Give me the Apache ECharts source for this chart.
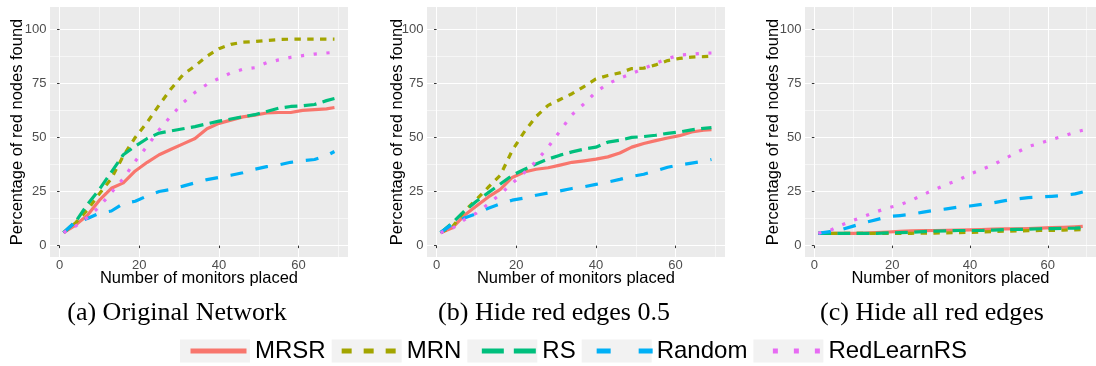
<!DOCTYPE html>
<html>
<head>
<meta charset="utf-8">
<script src="https://cdn.jsdelivr.net/npm/echarts@6.0.0/dist/echarts.min.js"></script>
<style>
  html, body { margin: 0; padding: 0; background: #ffffff; }
  #chart { width: 1096px; height: 366px; }
</style>
</head>
<body>
<div id="chart"></div>
<script>
// Number of monitors placed (shared x values for every curve)
const monitors = [1, 4, 7, 10, 13, 16, 19, 22, 25, 28, 31, 34, 37, 40, 43, 46, 49, 52, 55, 58, 61, 64, 67, 69];

// Method names, in legend order
const methods = ['MRSR', 'MRN', 'RS', 'Random', 'RedLearnRS'];

// (a) Original Network — percentage of red nodes found
const origMRSR       = [6, 9.5, 14, 21, 26.5, 29, 34.5, 38.5, 42, 44.5, 47, 49.5, 54, 56.5, 58, 59.5, 60.3, 61.3, 61.5, 61.5, 62.5, 62.8, 63.2, 63.8];
const origMRN        = [6, 10.5, 16.5, 24, 31, 41.5, 50, 57, 65, 72.5, 79, 83, 87.5, 91, 93, 94, 94.3, 94.8, 95.2, 95.4, 95.4, 95.4, 95.4, 95.4];
const origRS         = [6, 11, 19, 26, 34, 42, 46, 49.5, 52, 53, 54, 55, 56.3, 57.5, 58.5, 59.5, 60.5, 62, 63.5, 64.3, 64.6, 65.2, 67, 68];
const origRandom     = [6, 11, 12.5, 15, 16, 19.5, 20.5, 23, 25, 26, 27.5, 29, 30.5, 31.5, 32.5, 33.7, 35.3, 36.5, 37.3, 38.5, 39.2, 39.8, 41.5, 43.5];
const origRedLearnRS = [6, 9, 13, 18, 24.5, 31, 39, 46, 53.5, 60, 66, 70.8, 74.5, 77.3, 79.8, 81.5, 82.2, 84.5, 85.8, 87, 87.8, 88.5, 89, 89.3];

// (b) Hide red edges 0.5
const halfMRSR       = [6, 8.3, 14, 18.3, 22.5, 26, 31.5, 34, 35.3, 36, 37.2, 38.5, 39.2, 40, 41, 42.8, 45.5, 47.2, 48.5, 49.7, 50.8, 52.5, 53.3, 53.6];
const halfMRN        = [6, 8.7, 16, 21.3, 27, 32.5, 44, 52.5, 59.7, 64.8, 67.5, 70.2, 73.5, 77, 78.6, 79.8, 81.8, 82, 83.5, 85.5, 86.5, 87.1, 87.3, 87.5];
const halfRS         = [6, 10.5, 16, 20.5, 24.5, 28.5, 32.5, 35.2, 37.7, 40, 41.8, 43.3, 44.6, 45.5, 47.8, 48.7, 50, 50.4, 51, 51.9, 52.5, 53.5, 54.2, 54.5];
const halfRandom     = [6, 10, 12.8, 14.8, 17.3, 19.3, 21, 22, 23.3, 24.3, 25.3, 26.4, 27.2, 28.3, 29.4, 30.6, 32, 33, 34.5, 36.2, 37.3, 38.1, 39, 39.8];
const halfRedLearnRS = [6, 8, 12, 15, 19.3, 23.8, 28.8, 33.7, 39, 45.5, 53, 60.5, 65.5, 71, 74.8, 77.3, 79.5, 81.8, 84.2, 86.4, 88, 88.4, 88.9, 89];

// (c) Hide all red edges
const allMRSR        = [5.7, 5.7, 5.7, 5.7, 5.8, 6, 6.3, 6.6, 6.8, 6.9, 7, 7.1, 7.2, 7.3, 7.4, 7.6, 7.7, 7.8, 7.9, 8.1, 8.3, 8.5, 8.7, 8.9];
const allMRN         = [5.7, 5.7, 5.7, 5.7, 5.7, 5.7, 5.7, 5.7, 5.7, 5.8, 5.8, 5.9, 6, 6.1, 6.3, 6.5, 6.7, 6.8, 6.9, 7, 7, 7.2, 7.3, 7.4];
const allRS          = [5.7, 5.7, 5.7, 5.7, 5.7, 5.7, 5.9, 6, 6.2, 6.5, 6.7, 6.8, 7, 7, 7, 7.2, 7.4, 7.5, 7.6, 7.8, 7.9, 8, 8.1, 8.3];
const allRandom      = [5.7, 6.5, 7.4, 9, 10.7, 12, 13.4, 13.9, 14.5, 15.5, 16.3, 17, 17.8, 18.3, 19.1, 19.8, 20.8, 21.6, 22.2, 22.5, 22.8, 23.2, 23.9, 24.8];
const allRedLearnRS  = [5.7, 7, 9.5, 11.7, 13.7, 15.7, 17.5, 18.8, 21, 23.6, 26, 28.3, 30.3, 33, 35.2, 37.4, 40.2, 43, 45.8, 47.3, 49, 50.6, 52.4, 53.3];

// Panel captions
const captions = ['(a) Original Network', '(b) Hide red edges 0.5', '(c) Hide all red edges'];

// Axis tick values (major and minor grid lines)
const xTicks = [0, 20, 40, 60];
const xMinorTicks = [10, 30, 50, 70];
const yTicks = [0, 25, 50, 75, 100];
const yMinorTicks = [12.5, 37.5, 62.5, 87.5];

const panelValues = [
  [origMRSR, origMRN, origRS, origRandom, origRedLearnRS],
  [halfMRSR, halfMRN, halfRS, halfRandom, halfRedLearnRS],
  [allMRSR, allMRN, allRS, allRandom, allRedLearnRS]
];

// ---- styling ----
const SANS = '"Liberation Sans", Arial, sans-serif';
const SERIF = '"Liberation Serif", "Times New Roman", serif';
const colors = ['#F8766D', '#A3A500', '#00BF7D', '#00B0F6', '#E76BF3'];
const lineTypes = ['solid', [6.4, 6.4], [12.8, 6.4], [12.8, 12.8], [3.2, 9.6]];
const keyDash = [[56, 14], [10, 12], [22, 10], [14, 28], [5, 16]];
const keyDashOffset = [62, 17, 25, 37, 14];

const gridLeft = [50, 427, 805];
const yNameGap = [24, 21, 23];
const captionX = [177, 554, 932];
const X_MIN = -2.4, X_MAX = 72.4, Y_MIN = -5.25, Y_MAX = 110.25;

const grids = [], xAxes = [], yAxes = [], series = [];

gridLeft.forEach((left, p) => {
  grids.push({
    show: true, backgroundColor: '#EBEBEB', borderWidth: 0,
    left: left, top: 7, width: 298, height: 250
  });

  // major x axis with labels
  xAxes.push({
    gridIndex: p, type: 'value', min: X_MIN, max: X_MAX,
    axisLine: { show: false },
    axisTick: { show: true, length: 2.5, customValues: xTicks, lineStyle: { color: '#333333', width: 1 } },
    axisLabel: { customValues: xTicks, color: '#4D4D4D', fontSize: 13, fontFamily: SANS, margin: 2 },
    splitLine: { show: true, lineStyle: { color: '#FFFFFF', width: 1.1 } },
    name: 'Number of monitors placed', nameLocation: 'middle', nameGap: 13, nameMoveOverlap: false,
    nameTextStyle: { color: '#000000', fontSize: 16.5, fontFamily: SANS }
  });
  // minor x grid lines
  xAxes.push({
    gridIndex: p, type: 'value', min: X_MIN, max: X_MAX,
    axisLine: { show: false },
    axisTick: { show: false, customValues: xMinorTicks },
    axisLabel: { show: false },
    splitLine: { show: true, lineStyle: { color: '#FFFFFF', width: 0.55 } }
  });

  // major y axis with labels
  yAxes.push({
    gridIndex: p, type: 'value', min: Y_MIN, max: Y_MAX,
    axisLine: { show: false },
    axisTick: { show: true, length: 2.5, customValues: yTicks, lineStyle: { color: '#333333', width: 1 } },
    axisLabel: { customValues: yTicks, color: '#4D4D4D', fontSize: 13, fontFamily: SANS, margin: 3.5 },
    splitLine: { show: true, lineStyle: { color: '#FFFFFF', width: 1.1 } },
    name: 'Percentage of red nodes found', nameLocation: 'middle', nameGap: yNameGap[p], nameMoveOverlap: false,
    nameTextStyle: { color: '#000000', fontSize: 16.5, fontFamily: SANS }
  });
  // minor y grid lines
  yAxes.push({
    gridIndex: p, type: 'value', min: Y_MIN, max: Y_MAX,
    axisLine: { show: false },
    axisTick: { show: false, customValues: yMinorTicks },
    axisLabel: { show: false },
    splitLine: { show: true, lineStyle: { color: '#FFFFFF', width: 0.55 } }
  });

  methods.forEach((name, k) => {
    const values = panelValues[p][k];
    series.push({
      name: name, type: 'line',
      xAxisIndex: 2 * p, yAxisIndex: 2 * p,
      data: monitors.map((m, i) => [m, values[i]]),
      symbol: 'none', showSymbol: false, silent: true,
      itemStyle: { color: colors[k] },
      lineStyle: { color: colors[k], width: 3.2, type: lineTypes[k], cap: 'butt', join: 'round' },
      z: 3 + k
    });
  });
});

const legendCommon = {
  selectedMode: false, orient: 'horizontal',
  left: 180, top: 339, padding: 0,
  itemWidth: 70, itemHeight: 23, itemGap: 6
};

const option = {
  animation: false,
  backgroundColor: '#FFFFFF',
  grid: grids,
  xAxis: xAxes,
  yAxis: yAxes,
  series: series,
  legend: [
    // grey key boxes and the labels
    Object.assign({}, legendCommon, {
      data: methods.map(n => ({ name: n })),
      icon: 'rect',
      itemStyle: { color: '#F2F2F2', borderWidth: 0 },
      textStyle: { fontSize: 24, color: '#000000', fontFamily: SANS },
      z: 4
    }),
    // line samples drawn on top of the boxes
    Object.assign({}, legendCommon, {
      data: methods.map((n, k) => ({
        name: n,
        lineStyle: { type: keyDash[k], dashOffset: keyDashOffset[k], width: 5, cap: 'butt' }
      })),
      itemStyle: { color: 'rgba(0,0,0,0)', borderWidth: 0, opacity: 0 },
      lineStyle: { width: 5 },
      textStyle: { fontSize: 24, color: 'rgba(0,0,0,0)', fontFamily: SANS },
      z: 5
    })
  ],
  graphic: captions.map((text, i) => ({
    type: 'text', x: captionX[i], y: 313, silent: true,
    style: { text: text, font: '26px ' + SERIF, fill: '#000000', align: 'center', verticalAlign: 'middle' }
  }))
};

const chart = echarts.init(document.getElementById('chart'), null, { renderer: 'canvas' });
chart.setOption(option);
</script>
</body>
</html>
